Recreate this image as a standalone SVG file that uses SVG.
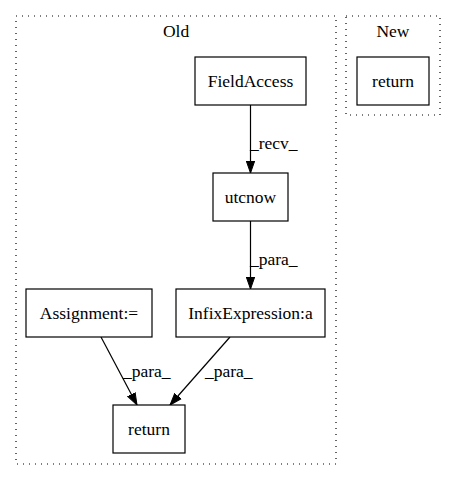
<svg xmlns="http://www.w3.org/2000/svg" width="456" height="480" viewBox="0 0 456 480">
<style>
.cl{fill:none;stroke:#000;stroke-width:1.2;stroke-dasharray:1,5}
.n{fill:#fff;stroke:#000;stroke-width:1.2}
text{font-family:"Liberation Serif","Times New Roman",serif;font-size:17.5px;fill:#000}
.c{text-anchor:middle}
.e{fill:none;stroke:#000;stroke-width:1.2}
</style>
<defs>
<marker id="ah" markerWidth="12" markerHeight="10" refX="12" refY="5" orient="auto" markerUnits="userSpaceOnUse">
<path d="M0,0.8 L12,5 L0,9.2 Z" fill="#000" stroke="#000"/>
</marker>
</defs>
<rect fill="#fff" width="456" height="480"/>
<g id="cluster_old">
<rect class="cl" x="16" y="16" width="320" height="448"/>
<text class="c" x="176" y="37">Old</text>
</g>
<g id="cluster_new">
<rect class="cl" x="346" y="16" width="94" height="99"/>
<text class="c" x="393" y="37">New</text>
</g>
<g id="edges">
<line class="e" x1="250.5" y1="105" x2="250.5" y2="173" marker-end="url(#ah)"/>
<text x="250" y="149">_recv_</text>
<line class="e" x1="250.5" y1="221" x2="250.5" y2="289" marker-end="url(#ah)"/>
<text x="250" y="265">_para_</text>
<line class="e" x1="101" y1="337" x2="137" y2="405" marker-end="url(#ah)"/>
<text x="123" y="377">_para_</text>
<line class="e" x1="230" y1="337" x2="170" y2="405" marker-end="url(#ah)"/>
<text x="205" y="377">_para_</text>
</g>
<g id="n_fieldaccess">
<rect class="n" x="195" y="57" width="111" height="48"/>
<text class="c" x="250.5" y="87">FieldAccess</text>
</g>
<g id="n_new_return">
<rect class="n" x="357" y="57" width="72" height="48"/>
<text class="c" x="393" y="87">return</text>
</g>
<g id="n_utcnow">
<rect class="n" x="213" y="173" width="75" height="48"/>
<text class="c" x="250.5" y="203">utcnow</text>
</g>
<g id="n_infix">
<rect class="n" x="176" y="289" width="149" height="48"/>
<text class="c" x="250.5" y="319">InfixExpression:a</text>
</g>
<g id="n_assign">
<rect class="n" x="26" y="289" width="126" height="48"/>
<text class="c" x="89" y="319">Assignment:=</text>
</g>
<g id="n_return">
<rect class="n" x="113" y="405" width="72" height="48"/>
<text class="c" x="149" y="435">return</text>
</g>
</svg>
